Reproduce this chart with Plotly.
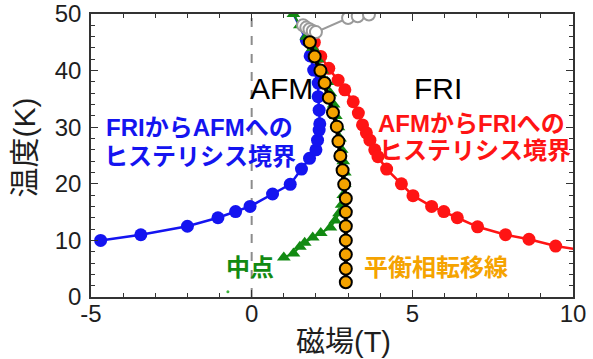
import plotly.graph_objects as go

# FRI -> AFM hysteresis boundary (field T, temperature K)
blue_h = [-4.7, -3.45, -2.0, -1.05, -0.5, -0.05, 0.65, 1.2, 1.55, 1.8, 2.0, 2.05, 2.1, 2.12,
          2.1, 2.07, 2.07, 1.93, 1.82, 1.7]
blue_t = [10.0, 11.0, 12.5, 14.0, 15.1, 16.0, 18.2, 19.9, 22.6, 24.5, 26.0, 27.7, 29.5, 30.6,
          33.0, 35.4, 37.8, 40.1, 42.6, 45.4]
blue_tail_h = [1.7, 1.3]
blue_tail_t = [45.4, 50.0]

# AFM -> FRI hysteresis boundary
red_h = [1.95, 2.15, 2.4, 2.69, 2.9, 3.16, 3.32, 3.45, 3.57, 3.68, 3.83, 3.93, 4.2, 4.66,
         5.02, 5.6, 5.98, 6.4, 7.03, 7.9, 8.63, 9.46, 10.5]
red_t = [45.0, 42.5, 40.4, 38.3, 36.6, 34.5, 32.5, 30.4, 29.0, 27.7, 26.0, 24.8, 22.6, 20.0,
         17.9, 16.0, 15.1, 14.0, 12.4, 11.0, 10.2, 9.0, 8.1]

# midpoint between the two boundaries
mid_h = [1.0, 1.3, 1.5, 1.65, 1.9, 2.15, 2.45, 2.6, 2.72, 2.8, 2.85, 2.9, 2.9, 2.85, 2.8,
         2.75, 2.7, 2.62, 2.55, 2.45, 2.35, 2.2, 2.05, 1.9, 1.7, 1.5, 1.3]
mid_t = [7.0, 7.7, 8.9, 9.6, 10.5, 11.3, 12.3, 13.5, 14.8, 16.3, 18.0, 20.0, 22.0, 24.0, 26.0,
         28.0, 30.0, 32.0, 34.0, 36.0, 38.0, 40.0, 42.0, 44.0, 46.0, 48.0, 50.0]
stray_h = [-0.74]
stray_t = [0.94]

# equilibrium phase-transition line
eq_h = [1.81, 1.96, 2.14, 2.27, 2.4, 2.53, 2.65, 2.7, 2.76, 2.83, 2.88, 2.93, 2.93, 2.93,
        2.93, 2.93, 2.93, 2.93]
eq_t = [45.0, 42.5, 40.0, 37.8, 35.2, 32.6, 30.1, 27.5, 24.9, 22.4, 19.9, 17.4, 15.0, 12.5,
        10.0, 7.5, 5.0, 2.6]

# high-temperature points (open circles)
hi_h = [1.6, 1.7, 1.8, 1.9, 2.0, 3.0, 3.3, 3.65]
hi_t = [48.0, 47.6, 47.3, 47.0, 46.8, 49.3, 49.6, 49.9]

# field tick labels (plain hyphen for the negative value)
x_tickvals = [-5, 0, 5, 10]
x_ticktext = ["-5", "0", "5", "10"]

CJK = "Liberation Sans, Arial, Noto Sans CJK JP"
BLUE = "#1414f0"
RED = "#ff1414"
GREEN = "#128a12"
ORANGE = "#f5a300"
INK = "#1e1e1e"

fig = go.Figure()

# zero-field guide
fig.add_trace(go.Scatter(x=[0, 0], y=[0, 50], mode="lines",
                         line=dict(color="#8c8c8c", width=2, dash="dash"),
                         hoverinfo="skip", showlegend=False))

fig.add_trace(go.Scatter(x=blue_tail_h, y=blue_tail_t, mode="lines",
                         line=dict(color=BLUE, width=2.5), showlegend=False))
fig.add_trace(go.Scatter(x=blue_h, y=blue_t, mode="lines+markers",
                         line=dict(color=BLUE, width=2.5),
                         marker=dict(color=BLUE, size=13), showlegend=False))
fig.add_trace(go.Scatter(x=red_h, y=red_t, mode="lines+markers",
                         line=dict(color=RED, width=2.5),
                         marker=dict(color=RED, size=13), showlegend=False,
                         cliponaxis=True))
fig.add_trace(go.Scatter(x=mid_h, y=mid_t, mode="lines+markers",
                         line=dict(color=GREEN, width=2),
                         marker=dict(color=GREEN, size=12, symbol="triangle-up"),
                         showlegend=False))
fig.add_trace(go.Scatter(x=stray_h, y=stray_t, mode="markers",
                         marker=dict(color="#3cb43c", size=3), showlegend=False))
fig.add_trace(go.Scatter(x=hi_h, y=hi_t, mode="lines+markers",
                         line=dict(color="#9a9a9a", width=2),
                         marker=dict(color="white", size=12,
                                     line=dict(color="#9a9a9a", width=2)),
                         showlegend=False))
fig.add_trace(go.Scatter(x=eq_h, y=eq_t, mode="lines+markers",
                         line=dict(color="black", width=4),
                         marker=dict(color=ORANGE, size=12,
                                     line=dict(color="black", width=2)),
                         showlegend=False))

def note(text, x, y, color, size=24, bold=True, **kw):
    fig.add_annotation(x=x, y=y, text=f"<b>{text}</b>" if bold else text,
                       showarrow=False, xanchor="center", yanchor="middle",
                       font=dict(family=CJK, size=size, color=color), **kw)

note("AFM", 0.93, 36.9, "black", size=30, bold=False)
note("FRI", 5.8, 36.9, "black", size=30, bold=False)
note("FRIからAFMへの", -1.62, 30.0, BLUE)
note("ヒステリシス境界", -1.62, 24.8, BLUE)
note("AFMからFRIへの", 6.85, 30.6, RED)
note("ヒステリシス境界", 6.95, 25.8, RED)
note("中点", -0.06, 5.3, GREEN)
note("平衡相転移線", 5.73, 5.3, ORANGE)

# axis titles
note("磁場(T)", 2.85, -0.158, INK, size=29, bold=False, yref="paper")
note("温度(K)", -0.138, 26.5, INK, size=30, bold=False, xref="paper", textangle=-90)

axis_common = dict(showgrid=False, zeroline=False, showline=True, linecolor="#333333",
                   linewidth=1.5, mirror="ticks", ticks="inside", ticklen=7,
                   tickwidth=1.2, tickcolor="#333333", automargin=False,
                   tickfont=dict(family=CJK, size=24, color=INK))

fig.update_xaxes(range=[-5, 10], tickmode="array", tickvals=x_tickvals,
                 ticktext=x_ticktext, ticklabelstandoff=-6,
                 minor=dict(tick0=-5, dtick=1, ticks="inside", ticklen=4,
                            tickcolor="#333333"),
                 **axis_common)
fig.update_yaxes(range=[0, 50], dtick=10, ticklabelstandoff=3,
                 minor=dict(dtick=2, ticks="inside", ticklen=4, tickcolor="#333333"),
                 **axis_common)

fig.update_layout(width=593, height=359, margin=dict(l=91, r=20, t=14, b=62),
                  plot_bgcolor="white", paper_bgcolor="white", showlegend=False)

fig.write_html("out.html")
